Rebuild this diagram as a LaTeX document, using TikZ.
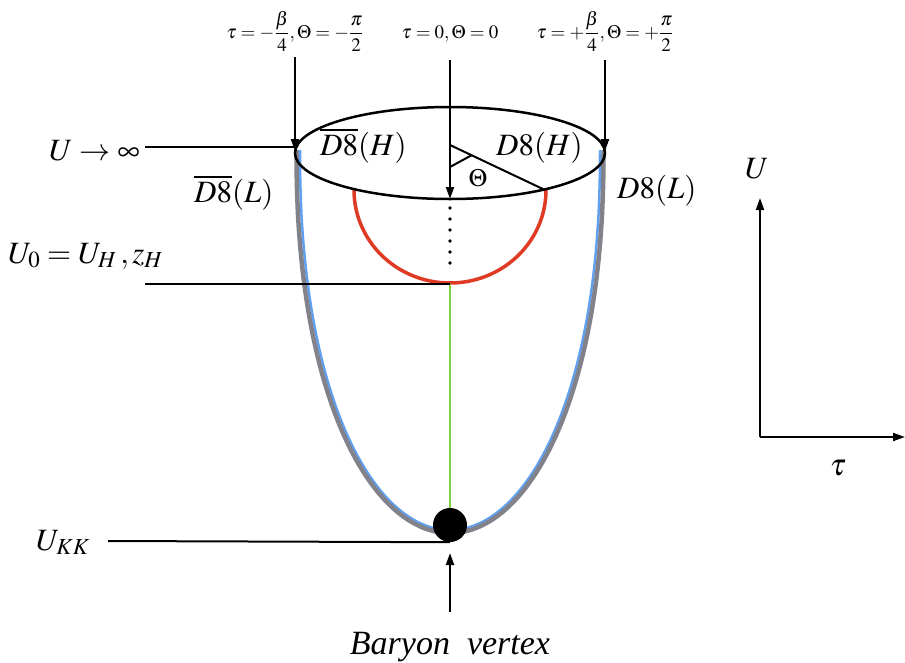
\documentclass[tikz,border=0pt]{standalone}
\usepackage{amsmath}
\usepackage{mathptmx}
\usepackage{fontspec}
\setmainfont{Liberation Serif}
\usetikzlibrary{arrows.meta,shapes.geometric}
\definecolor{redarc}{RGB}{222,58,36}
\definecolor{bluein}{RGB}{95,160,240}
\definecolor{grayout}{RGB}{130,130,138}
\definecolor{greenln}{RGB}{125,210,60}
\tikzset{
  conn/.style={line width=2pt,draw=black},
  arr/.style={conn,-{Triangle[length=12pt,width=8pt]}},
  lbl/.style={inner sep=0pt,font=\fontsize{31}{35}\selectfont},
  toplbl/.style={inner sep=0pt,font=\fontsize{19}{23}\selectfont}
}
\begin{document}
\begin{tikzpicture}[x=1pt,y=-1pt]
\useasboundingbox (0,0) rectangle (905,662);
% bowl
\draw[bluein,line width=2.5pt] plot[domain=-90:90,samples=181,smooth] ({450+150*sin(\x)},{150+380*pow(max(cos(\x),0.00001),0.909)});
\draw[grayout,line width=4.5pt] plot[domain=-90:90,samples=181,smooth] ({450+153.5*sin(\x)},{150+383*pow(max(cos(\x),0.00001),0.909)});
% red half circle
\draw[redarc,line width=3.5pt] plot[domain=180:360,samples=80] ({450+96*cos(\x)},{190-93*sin(\x)});
% green line
\coordinate (g1) at (450,284);
\node[circle,fill=black,minimum size=34pt,inner sep=0pt] (dot) at (450,525) {};
\draw[greenln,line width=1.6pt] (g1) -- (dot.north);
% dotted
\coordinate (d1) at (450,208);
\coordinate (d2) at (450,274);
\draw[line width=3.6pt,line cap=round,dash pattern=on 0pt off 11pt] (d1) -- (d2);
% ellipse
\node[ellipse,draw=black,line width=2.5pt,minimum width=310pt,minimum height=92pt,inner sep=0pt] (ell) at (450,153) {};
% angle
\coordinate (tc) at (450,145);
\coordinate (te) at (545,190);
\draw[conn] (tc) -- (te);
\coordinate (a1) at (450,167);
\coordinate (a2) at (472,155);
\draw[conn] (a1) -- (a2);
\node[inner sep=0pt,font=\fontsize{25}{28}\selectfont] (th) at (478,178) {$\Theta$};
% top labels and arrows
\node[toplbl,anchor=base] (tl) at (295,38) {$\tau=-\dfrac{\beta}{4},\Theta=-\dfrac{\pi}{2}$};
\node[toplbl,anchor=base] (tm) at (450,38) {$\tau=0,\Theta=0$};
\node[toplbl,anchor=base] (tr) at (605,38) {$\tau=+\dfrac{\beta}{4},\Theta=+\dfrac{\pi}{2}$};
\coordinate (tlA) at (295,57); \coordinate (tlB) at (295,151);
\coordinate (tmA) at (450,60); \coordinate (tmB) at (450,199);
\coordinate (trA) at (605,60); \coordinate (trB) at (605,151);
\draw[arr] (tlA) -- (tlB);
\draw[arr] (tmA) -- (tmB);
\draw[arr] (trA) -- (trB);
% left labels and lines
\node[lbl,anchor=base east] (uinf) at (140,160) {$U\rightarrow\infty$};
\coordinate (uinfS) at (145,147);
\coordinate (uinfE) at (295,147);
\draw[conn] (uinfS) -- (uinfE);
\node[lbl,anchor=base west] (u0) at (8,263) {$U_0=U_H\,,z_H$};
\coordinate (u0S) at (145,284); \coordinate (u0E) at (450,284);
\draw[conn] (u0S) -- (u0E);
\node[lbl,anchor=base west] (ukk) at (36,550) {$U_{KK}$};
\coordinate (ukkS) at (108,541);
\draw[conn] (ukkS) -- (dot.south);
% D8 labels
\node[lbl,anchor=base west] (dbh) at (320,155) {$\overline{D8}(H)$};
\node[lbl,anchor=base west] (dh) at (496,155) {$D8(H)$};
\node[lbl,anchor=base west] (dbl) at (194,202) {$\overline{D8}(L)$};
\node[lbl,anchor=base west] (dl) at (617,198) {$D8(L)$};
% baryon vertex
\coordinate (bvA) at (450,612);
\coordinate (bvB) at (450,553);
\draw[arr] (bvA) -- (bvB);
\node[lbl,anchor=base,font=\fontsize{34}{38}\selectfont\itshape] (bv) at (450,654) {Baryon\ \ vertex};
% axes
\coordinate (o) at (760,437);
\coordinate (uy) at (760,198);
\coordinate (tx) at (905,437);
\draw[arr] (o) -- (uy);
\draw[arr] (o) -- (tx);
\node[lbl,anchor=base] (ul) at (757,178) {$U$};
\node[lbl,anchor=base] (tl2) at (838,475) {$\tau$};
\end{tikzpicture}
\end{document}
